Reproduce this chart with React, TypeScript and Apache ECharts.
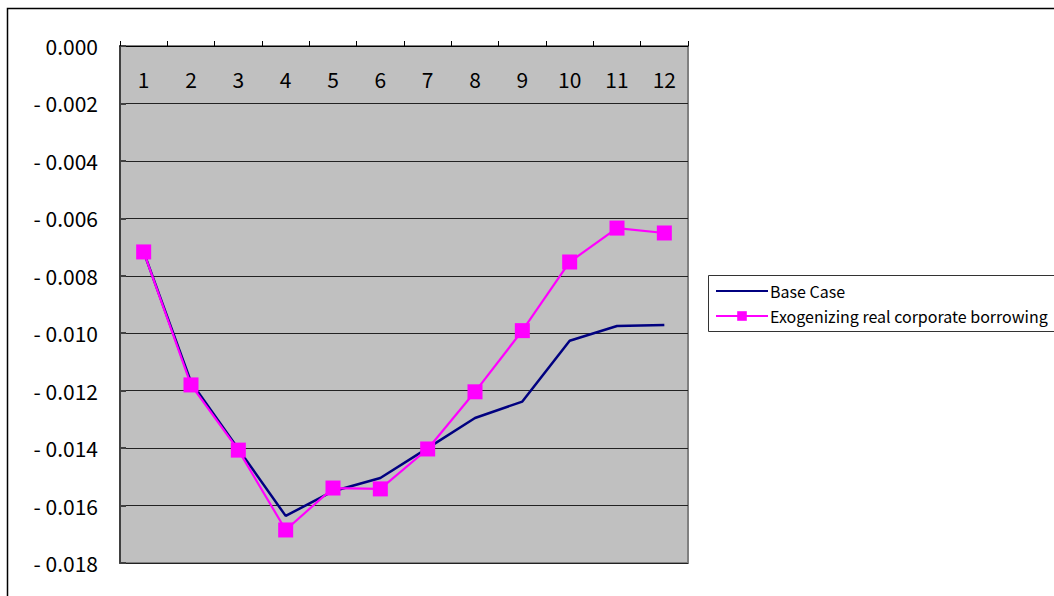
import React, { useEffect, useRef } from "react";
import * as echarts from "echarts";

const categories = ["1", "2", "3", "4", "5", "6", "7", "8", "9", "10", "11", "12"];
const baseCase = [-0.00717, -0.0117, -0.01403, -0.01636, -0.0155, -0.01504, -0.014, -0.01295, -0.01238, -0.01026, -0.00975, -0.00971];
const exogenizing = [-0.00717, -0.0118, -0.01407, -0.01685, -0.01539, -0.01542, -0.01403, -0.01204, -0.00991, -0.00752, -0.00634, -0.00651];
const seriesNames = ["Base Case", "Exogenizing real corporate borrowing"];

const FONT = "'Noto Sans CJK JP', sans-serif";

export default function App() {
  const ref = useRef<HTMLDivElement>(null);
  useEffect(() => {
    if (!ref.current) return;
    const chart = echarts.init(ref.current, null, { renderer: "svg" });
    chart.setOption({
      animation: false,
      backgroundColor: "#ffffff",
      textStyle: { fontFamily: FONT },
      grid: {
        left: 120,
        top: 46,
        right: 366,
        bottom: 33,
        show: true,
        backgroundColor: "#C0C0C0",
        borderColor: "#808080",
        borderWidth: 2,
      },
      graphic: [
        {
          type: "rect",
          shape: { x: 7.5, y: 8.5, width: 1200, height: 700 },
          style: { fill: "none", stroke: "#000", lineWidth: 1.5 },
          silent: true,
        },
        {
          type: "rect",
          shape: { x: 708.5, y: 275.5, width: 500, height: 56 },
          style: { fill: "none", stroke: "#333", lineWidth: 1 },
          silent: true,
        },
      ],
      legend: {
        orient: "vertical",
        left: 715,
        top: 283,
        itemWidth: 52,
        itemHeight: 12,
        itemGap: 9,
        padding: 0,
        textStyle: { fontSize: 16, color: "#000", fontFamily: FONT, padding: [0, 0, 0, -3] },
        data: [
          {
            name: seriesNames[0],
            itemStyle: { color: "rgba(0,0,0,0)", borderColor: "rgba(0,0,0,0)", borderWidth: 0 },
          },
          { name: seriesNames[1] },
        ],
      },
      xAxis: {
        type: "category",
        position: "top",
        data: categories,
        boundaryGap: true,
        axisLine: { show: true, lineStyle: { color: "#000", width: 1 } },
        axisTick: { show: true, inside: false, length: 5, lineStyle: { color: "#000" } },
        axisLabel: { inside: true, margin: 22, fontSize: 21, color: "#000", fontFamily: FONT },
        splitLine: { show: false },
      },
      yAxis: {
        type: "value",
        min: -0.018,
        max: 0,
        interval: 0.002,
        axisLine: { show: true, lineStyle: { color: "#404040", width: 2 } },
        axisTick: { show: true, inside: true, length: 6, lineStyle: { color: "#404040", width: 2 } },
        axisLabel: {
          fontSize: 21,
          color: "#000",
          margin: 22,
          fontFamily: FONT,
          formatter: (v: number) => {
            if (Math.abs(v) < 1e-9) return "0.000";
            return (v < 0 ? "- " : "") + Math.abs(v).toFixed(3);
          },
        },
        splitLine: { show: true, lineStyle: { color: "#222", width: 1 } },
      },
      series: [
        {
          name: seriesNames[0],
          type: "line",
          data: baseCase,
          symbol: "none",
          lineStyle: { color: "#000080", width: 2.5 },
          itemStyle: { color: "#000080" },
          z: 2,
        },
        {
          name: seriesNames[1],
          type: "line",
          data: exogenizing,
          symbol: "rect",
          symbolSize: 15,
          lineStyle: { color: "#FF00FF", width: 2.2 },
          itemStyle: { color: "#FF00FF" },
          z: 3,
        },
      ],
    });
    return () => chart.dispose();
  }, []);
  return (
    <div
      ref={ref}
      style={{ position: "absolute", left: 0, top: 0, width: 1054, height: 596 }}
    />
  );
}
